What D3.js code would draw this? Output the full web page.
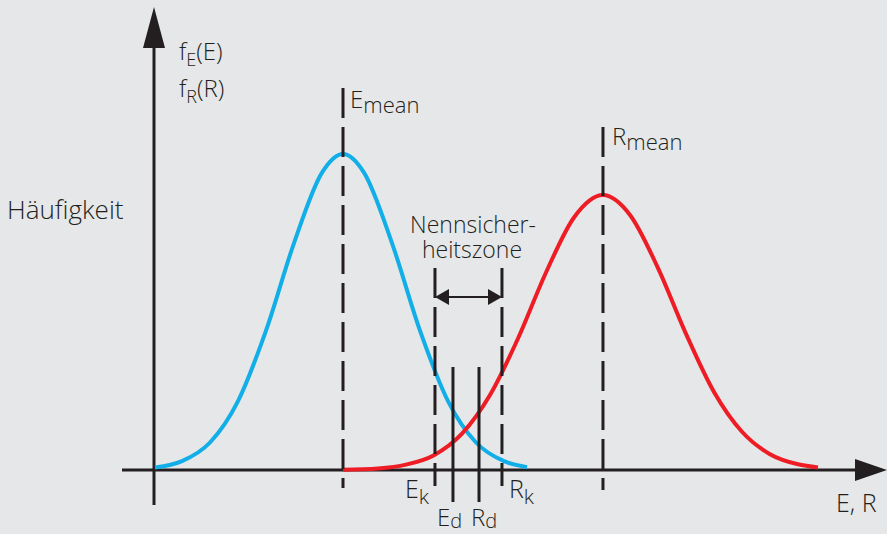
<!DOCTYPE html>
<head>
  <meta charset="utf-8">
  <script src="https://d3js.org/d3.v7.min.js"></script>
  <style>
    body { margin:0; background:#e6e7e8; }
    svg { display:block; }
    text { font-family: "Open Sans", "Liberation Sans", sans-serif; font-weight:300; fill:#231f20; }
  </style>
</head>
<body>
<script>

  // E curve (load), x in units, y relative to E peak
  var blueX = [0.14, 4, 8, 12, 16, 20, 24, 27, 30, 34, 38, 42, 46, 50, 53.3];
  var blueY = [0.008, 0.028, 0.087, 0.218, 0.441, 0.718, 0.941, 1.0, 0.941, 0.718, 0.441, 0.218, 0.087, 0.028, 0.009];

  // R curve (resistance)
  var redX = [27, 32, 36, 40, 44, 48, 52, 56, 60, 64.14, 68, 72, 76, 80, 84, 88, 92, 94.86];
  var redY = [0.001, 0.005, 0.017, 0.047, 0.115, 0.237, 0.416, 0.625, 0.799, 0.87, 0.807, 0.639, 0.431, 0.247, 0.121, 0.05, 0.018, 0.008];

  // characteristic values on the E, R axis
  var eMean = 27, rMean = 64.14;
  var eK = 40.14, rK = 49.71;
  var eD = 42.71, rD = 46.43;

  var width = 887, height = 534;

  var svg = d3.select("body").append("svg")
    .attr("width", width)
    .attr("height", height);

  var x = d3.scaleLinear().domain([0, 100]).range([154, 854]);
  var y = d3.scaleLinear().domain([0, 1]).range([470, 154]);

  var ink = "#231f20";

  // axes with arrowheads
  svg.append("line")
    .attr("x1", x(0)).attr("x2", x(0))
    .attr("y1", 505).attr("y2", 40)
    .attr("stroke", ink).attr("stroke-width", 3);
  svg.append("path")
    .attr("d", "M" + (x(0) - 11) + ",48 L" + x(0) + ",7 L" + (x(0) + 11) + ",48 Z")
    .attr("fill", ink);

  svg.append("line")
    .attr("x1", 122).attr("x2", 860)
    .attr("y1", y(0)).attr("y2", y(0))
    .attr("stroke", ink).attr("stroke-width", 3);
  svg.append("path")
    .attr("d", "M855," + (y(0) - 11) + " L887," + y(0) + " L855," + (y(0) + 11) + " Z")
    .attr("fill", ink);

  // curves
  var line = d3.line()
    .x(function(d) { return x(d[0]); })
    .y(function(d) { return y(d[1]); })
    .curve(d3.curveMonotoneX);

  svg.append("path")
    .datum(blueX.map(function(v, i) { return [v, blueY[i]]; }))
    .attr("d", line)
    .attr("fill", "none")
    .attr("stroke", "#12aee8")
    .attr("stroke-width", 4);

  svg.append("path")
    .datum(redX.map(function(v, i) { return [v, redY[i]]; }))
    .attr("d", line)
    .attr("fill", "none")
    .attr("stroke", "#ee1c25")
    .attr("stroke-width", 4);

  // vertical reference lines
  function vline(xv, y1, y2, dashed) {
    svg.append("line")
      .attr("x1", x(xv)).attr("x2", x(xv))
      .attr("y1", y1).attr("y2", y2)
      .attr("stroke", ink)
      .attr("stroke-width", 3)
      .attr("stroke-dasharray", dashed ? "30,9" : null);
  }
  vline(eMean, 88, 488, true);
  vline(rMean, 127, 490, true);
  vline(eK, 268, 486, true);
  vline(rK, 268, 486, true);
  vline(eD, 367, 502, false);
  vline(rD, 367, 502, false);

  // double arrow between Ek and Rk
  var ay = 297;
  svg.append("line")
    .attr("x1", x(eK) + 10).attr("x2", x(rK) - 10)
    .attr("y1", ay).attr("y2", ay)
    .attr("stroke", ink).attr("stroke-width", 2);
  svg.append("path")
    .attr("d", "M" + x(eK) + "," + ay + " l14,-8 l0,16 Z")
    .attr("fill", ink);
  svg.append("path")
    .attr("d", "M" + x(rK) + "," + ay + " l-14,-8 l0,16 Z")
    .attr("fill", ink);

  // labels: main letter plus lowered index
  function label(px, py, main, sub, size, subSize, drop) {
    var t = svg.append("text")
      .attr("x", px).attr("y", py)
      .style("font-size", size + "px");
    t.append("tspan").text(main);
    if (sub) {
      t.append("tspan").attr("dy", drop).style("font-size", subSize + "px").text(sub);
    }
    return t;
  }

  var fe = label(179, 60, "f", "E", 24, 18, 6);
  fe.append("tspan").attr("dy", -6).text("(E)");
  var fr = label(179, 97, "f", "R", 24, 18, 6);
  fr.append("tspan").attr("dy", -6).text("(R)");

  label(7, 219, "Häufigkeit", null, 26);
  label(350, 108, "E", "mean", 24, 22, 5);
  label(612, 145, "R", "mean", 24, 22, 5);

  svg.append("text").attr("x", 473).attr("y", 233)
    .style("font-size", "23px").style("text-anchor", "middle").text("Nennsicher-");
  svg.append("text").attr("x", 472).attr("y", 258)
    .style("font-size", "23px").style("text-anchor", "middle").text("heitszone");

  label(405, 498, "E", "k", 25, 21, 6);
  label(509, 498, "R", "k", 25, 21, 6);
  label(437, 526, "E", "d", 24, 20, 2);
  label(471, 526, "R", "d", 24, 20, 2);
  label(836, 512, "E, R", null, 25);

</script>
</body>
